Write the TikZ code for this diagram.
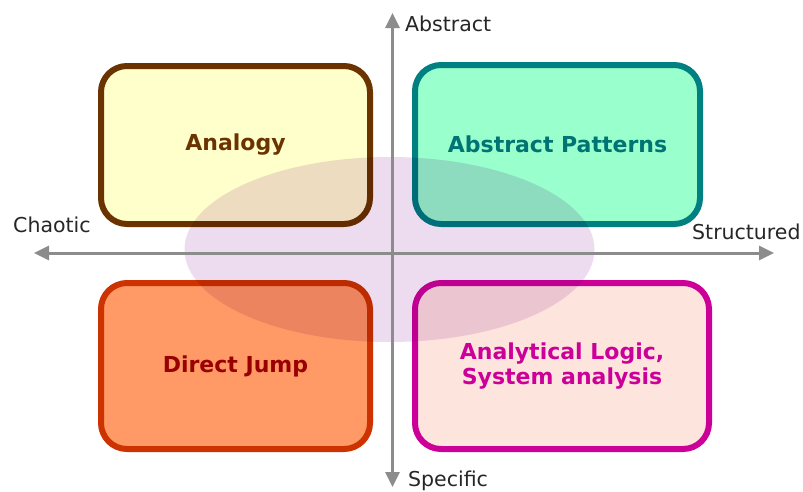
\documentclass[tikz,border=0pt]{standalone}
\usepackage{fontspec}
\setmainfont{DejaVu Sans}
\usetikzlibrary{arrows.meta,shapes.geometric}

\definecolor{axisgray}{HTML}{8C8C8C}
\definecolor{anaFill}{HTML}{FFFFCC}
\definecolor{anaLine}{HTML}{6B3300}
\definecolor{patFill}{HTML}{99FFCC}
\definecolor{patLine}{HTML}{008080}
\definecolor{patText}{HTML}{007373}
\definecolor{jmpFill}{HTML}{FF9966}
\definecolor{jmpLine}{HTML}{CC3300}
\definecolor{jmpText}{HTML}{990000}
\definecolor{logFill}{HTML}{FDE5DE}
\definecolor{logLine}{HTML}{CC0099}
\definecolor{blobFill}{HTML}{EDDCF0}

\tikzset{
  quadbox/.style={draw, line width=6pt, rounded corners=26pt, inner sep=0pt,
    align=center, font=\fontsize{22}{25}\selectfont\bfseries},
  axisline/.style={draw=axisgray, line width=3pt,
    {Triangle[length=15pt,width=14pt]}-{Triangle[length=15pt,width=14pt]}},
  axislabel/.style={font=\fontsize{20.5}{23}\selectfont, text=black!85, inner sep=0pt},
  blob/.style={ellipse, fill=blobFill, draw=none, inner sep=0pt}
}

\begin{document}
\begin{tikzpicture}[x=1pt,y=-1pt]
  \useasboundingbox (0,0) rectangle (803,491);

  % the four quadrant boxes
  \node[quadbox, fill=anaFill, draw=anaLine, text=anaLine,
        minimum width=269pt, minimum height=158pt] (analogy) at (235.5,145) {Analogy};
  \node[quadbox, fill=patFill, draw=patLine, text=patText,
        minimum width=285pt, minimum height=159pt] (patterns) at (557.5,144.5) {Abstract Patterns};
  \node[quadbox, fill=jmpFill, draw=jmpLine, text=jmpText,
        minimum width=269pt, minimum height=166pt] (jump) at (235.5,366) {Direct Jump};
  \node[quadbox, fill=logFill, draw=logLine, text=logLine,
        minimum width=294pt, minimum height=166pt] (logic) at (562,366) {Analytical Logic,\\System analysis};

  % tinted region around the centre, multiplied over the boxes
  \begin{scope}[blend mode=multiply]
    \node[blob, minimum width=410pt, minimum height=185pt] (centre) at (389.5,249.5) {};
  \end{scope}

  % axes
  \coordinate (yTop) at (392.5,13);
  \coordinate (yBot) at (392.5,487);
  \coordinate (xLeft) at (34,253);
  \coordinate (xRight) at (774,253);
  \draw[axisline] (yBot) -- (yTop);
  \draw[axisline] (xLeft) -- (xRight);

  % axis labels
  \node[axislabel, anchor=base west] (lblAbstract) at (405,31) {Abstract};
  \node[axislabel, anchor=base west] (lblSpecific) at (408,486) {Specific};
  \node[axislabel, anchor=base west] (lblChaotic) at (13,232) {Chaotic};
  \node[axislabel, anchor=base west] (lblStructured) at (692,239) {Structured};
\end{tikzpicture}
\end{document}
